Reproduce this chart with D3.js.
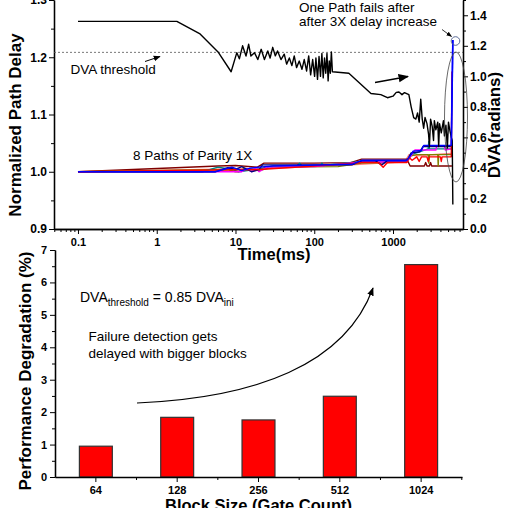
<!DOCTYPE html>
<html><head><meta charset="utf-8">
<script src="https://cdn.jsdelivr.net/npm/d3@7"></script>
<style>
body{margin:0;background:#fff;}
svg{display:block;font-family:"Liberation Sans",Arial,sans-serif;}
</style></head><body>
<svg id="c" width="506" height="508"></svg>
<script>
// ---------- DATA (top panel) ----------
const timeTicks = [0.1, 1, 10, 100, 1000];
const timeTickLabels = ["0.1", "1", "10", "100", "1000"];
const delayTicks = [0.9, 1.0, 1.1, 1.2, 1.3];
const dvaTicks = [0.0, 0.2, 0.4, 0.6, 0.8, 1.0, 1.2, 1.4];
const dvaThreshold = 1.157;

// DVA (radians, right axis) vs time (ms)
const dvaSeries = [
 [0.1,1.36],[1.8,1.36],[3.5,1.28],[6,1.16],[8.8,1.03],[10.4,1.155],[11.2,1.115],[12.3,1.2],[13.6,1.133],
 [14.7,1.21],[15.7,1.133],[17.4,1.155],[19.2,1.11],[21.2,1.177],[23.3,1.11],[25.7,1.166],[27.5,1.12],
 [29.7,1.19],[32,1.134],[34.2,1.166],[37.8,1.11],[41.6,1.145],[44.6,1.08],[48.3,1.12],[52,1.07],
 [55.7,1.134],[59.6,1.057],[64.5,1.1],[69.8,1.046],[74.6,1.11],[80,1.035],[85,1.134],[90,1.01],
 [95.5,1.11],[101,1.0],[105,1.12],[110,0.98],[115,1.13],[120,1.0],[125,1.15],[130,0.99],[135,1.12],
 [140,1.02],[145,1.15],[150,0.97],[155,1.1],[160,1.02],[165,1.16],[170,1.03],[275,1.02],[525,0.888],
 [700,0.88],[850,0.86],[1000,0.87],[1100,0.895],[1190,0.897],[1300,0.88],[1400,0.893],[1590,0.88],
 [1700,0.8],[1830,0.73],[1950,0.72],[2050,0.76],[2150,0.7],[2250,0.85],[2350,0.72],[2450,0.66],
 [2550,0.73],[2700,0.69],[2830,0.62],[2900,0.54],[3000,0.72],[3150,0.67],[3270,0.58],[3350,0.71],
 [3500,0.65],[3700,0.7],[3800,0.54],[3900,0.69],[4100,0.63],[4370,0.71],[4500,0.61],[4700,0.68],
 [4900,0.53],[5060,0.7],[5300,0.64],[5500,0.6],[5650,0.58],[5750,0.16]
];

// 8 path delays (normalized, left axis)
const pathWine = [[0.1,1.0],[6,1.01],[10,1.011],[19,1.008],[23,1.015],[100,1.015],[290,1.016],[400,1.022],
 [1500,1.022],[1650,1.01],[2500,1.01],[2600,1.016],[2700,1.01],[2900,1.01],[3000,1.016],[3100,1.01],[5600,1.01]];
const pathNavy = [[0.1,1.0],[5.5,1.0],[8,1.007],[10,1.004],[12,1.009],[16,1.0],[20,1.004],[22,1.012],
 [300,1.012],[400,1.019],[600,1.019],[720,1.012],[840,1.019],[1500,1.019],[1700,1.033],[2200,1.035],
 [2400,1.044],[5500,1.044]];
const pathBlue = [[0.1,1.0],[5.5,1.0],[7,1.004],[9,1.008],[12,1.002],[15,1.006],[20,1.008],[30,1.01],
 [300,1.013],[400,1.02],[1500,1.02],[1700,1.03],[1800,1.036],[2300,1.037],[2450,1.046],[5500,1.046],[5750,1.23]];
const pathTeal = [[0.1,1.0],[3.8,1.0],[6,1.008],[9,1.004],[11,1.0],[20,1.005],[30,1.01],[60,1.01],[65,1.015],
 [70,1.01],[120,1.011],[125,1.015],[130,1.011],[400,1.018],[1500,1.018],[1700,1.03],[2800,1.04],[2850,1.053],
 [2900,1.04],[5500,1.04]];
const pathMagenta = [[0.1,1.0],[12,1.0],[14,1.006],[16,1.0],[18,1.006],[20,1.0],[25,1.008],[100,1.009],
 [400,1.017],[1500,1.017],[1650,1.026],[1900,1.038],[3500,1.038],[3600,1.045],[4500,1.045],[4600,1.038],[5500,1.04]];
const pathOlive = [[0.1,1.0],[8,1.004],[10,1.0],[11,1.0],[13,1.006],[20,1.002],[30,1.008],[200,1.009],
 [400,1.015],[1500,1.017],[1700,1.028],[2000,1.03],[2800,1.03],[2850,1.015],[2900,1.03],[3700,1.03],
 [3750,1.01],[3800,1.03],[5500,1.03]];
const pathRed = [[0.1,1.0],[20,1.004],[100,1.01],[400,1.016],[650,1.016],[750,1.008],[850,1.016],[1500,1.016],
 [1600,1.025],[1750,1.02],[2000,1.026],[2150,1.018],[2300,1.026],[2700,1.026],[2800,1.018],[2900,1.026],
 [4000,1.026],[4100,1.018],[4200,1.026],[5500,1.026],[5600,1.175]];
const pathPink = [[0.1,1.0],[30,1.006],[300,1.012],[700,1.015],[1400,1.017],[1600,1.03],[2000,1.028],[5500,1.032]];

const pathSeries = [pathPink, pathWine, pathOlive, pathTeal, pathMagenta, pathNavy, pathRed, pathBlue];
const pathColors = ["#ff8080", "#800000", "#808000", "#008080", "#ff00ff", "#000080", "#ff0000", "#0000ff"];

// ---------- DATA (bottom panel) ----------
const blockSizes = ["64", "128", "256", "512", "1024"];
const degradation = [0.95, 1.84, 1.76, 2.49, 6.55];
const degTicks = [0, 1, 2, 3, 4, 5, 6, 7];

// ---------- DRAW ----------
const svg = d3.select("#c");
const FONT = '"Liberation Sans",Arial,sans-serif';

const defs = svg.append("defs");
defs.append("marker").attr("id","ah").attr("viewBox","0 0 10 10").attr("refX",9).attr("refY",5)
  .attr("markerWidth",7).attr("markerHeight",7).attr("orient","auto")
  .append("path").attr("d","M0,1 L10,5 L0,9 Z").attr("fill","#000");

// top scales
const xT = d3.scaleLog().domain([0.0496, 7740]).range([54, 463]);
const yL = d3.scaleLinear().domain([0.9, 1.3]).range([229, 0]);
const yR = d3.scaleLinear().domain([0, 1.5]).range([229, 0]);

const gTop = svg.append("g");

function styleAxis(g, fs){
  g.select(".domain").attr("stroke","#000").attr("stroke-width",1.3);
  g.selectAll(".tick line").attr("stroke","#000").attr("stroke-width",1);
  g.selectAll(".tick text").attr("font-family",FONT).attr("font-weight","bold")
    .attr("font-size",fs).attr("fill","#000");
}

// minor ticks for log axis
const minorT = [];
for (let k=-2;k<=3;k++) for (let m=2;m<=9;m++){ const v=m*Math.pow(10,k); if(v>=xT.domain()[0]&&v<=xT.domain()[1]) minorT.push(v); }

const gxT = gTop.append("g").attr("transform","translate(0,229)")
  .call(d3.axisBottom(xT).tickValues(timeTicks).tickFormat((d,i)=>timeTickLabels[i]).tickSize(5).tickSizeOuter(0).tickPadding(4));
styleAxis(gxT, 11);
const gxTm = gTop.append("g").attr("transform","translate(0,229)")
  .call(d3.axisBottom(xT).tickValues(minorT).tickFormat("").tickSize(3).tickSizeOuter(0));
styleAxis(gxTm, 11);

const gyL = gTop.append("g").attr("transform","translate(54,0)")
  .call(d3.axisLeft(yL).tickValues(delayTicks).tickFormat(d3.format(".1f")).tickSize(5).tickSizeOuter(0).tickPadding(2));
styleAxis(gyL, 12);
const gyLm = gTop.append("g").attr("transform","translate(54,0)")
  .call(d3.axisLeft(yL).tickValues([0.95,1.05,1.15,1.25]).tickFormat("").tickSize(3).tickSizeOuter(0));
styleAxis(gyLm, 12);

const gyR = gTop.append("g").attr("transform","translate(463,0)")
  .call(d3.axisRight(yR).tickValues(dvaTicks).tickFormat(d3.format(".1f")).tickSize(5).tickSizeOuter(0).tickPadding(2));
styleAxis(gyR, 12);
const gyRm = gTop.append("g").attr("transform","translate(463,0)")
  .call(d3.axisRight(yR).tickValues([0.1,0.3,0.5,0.7,0.9,1.1,1.3,1.5]).tickFormat("").tickSize(3).tickSizeOuter(0));
styleAxis(gyRm, 12);

// threshold line
gTop.append("line").attr("x1",54).attr("x2",463).attr("y1",yR(dvaThreshold)).attr("y2",yR(dvaThreshold))
  .attr("stroke","#555").attr("stroke-width",0.8).attr("stroke-dasharray","2,2");

// path lines
const lineL = d3.line().x(d=>xT(d[0])).y(d=>yL(d[1]));
pathSeries.forEach((s,i)=>{
  gTop.append("path").datum(s).attr("d",lineL).attr("fill","none")
    .attr("stroke",pathColors[i]).attr("stroke-width",1.4).attr("stroke-linejoin","round");
});
// DVA line
const lineR = d3.line().x(d=>xT(d[0])).y(d=>yR(d[1]));
gTop.append("path").datum(dvaSeries).attr("d",lineR).attr("fill","none")
  .attr("stroke","#000").attr("stroke-width",1.4).attr("stroke-linejoin","round");
// re-draw blue spike on top
gTop.append("path").datum(pathBlue.slice(-2)).attr("d",lineL).attr("fill","none").attr("stroke","#0000ff").attr("stroke-width",1.6);

// annotations top
function txt(g,x,y,s,fs,opts={}){
  return g.append("text").attr("x",x).attr("y",y).attr("font-family",FONT).attr("font-size",fs)
    .attr("font-weight",opts.bold?"bold":"normal").attr("text-anchor",opts.anchor||"start").attr("fill","#000").text(s);
}
txt(gTop,70.5,74,"DVA threshold",13.5);
gTop.append("line").attr("x1",145).attr("y1",61.5).attr("x2",160).attr("y2",56.5).attr("stroke","#000").attr("stroke-width",1).attr("marker-end","url(#ah)");
txt(gTop,133,160,"8 Paths of Parity 1X",13.5);
txt(gTop,299,12,"One Path fails after",13.5);
txt(gTop,299,26,"after 3X delay increase",13.5);
gTop.append("line").attr("x1",442).attr("y1",29.5).attr("x2",451.5).attr("y2",36.5).attr("stroke","#000").attr("stroke-width",0.8).attr("marker-end","url(#ah)");
gTop.append("line").attr("x1",375).attr("y1",82.5).attr("x2",408).attr("y2",76.5).attr("stroke","#000").attr("stroke-width",1.5).attr("marker-end","url(#ah)");
gTop.append("circle").attr("cx",455.5).attr("cy",41).attr("r",4.3).attr("fill","none").attr("stroke","#4a5a8a").attr("stroke-width",0.9);
gTop.append("ellipse").attr("cx",456).attr("cy",117).attr("rx",11.5).attr("ry",65).attr("fill","none").attr("stroke","#444").attr("stroke-width",0.8);

// axis titles top
gTop.append("text").attr("transform","translate(21,125) rotate(-90)").attr("text-anchor","middle")
  .attr("font-family",FONT).attr("font-weight","bold").attr("font-size",17).text("Normalized Path Delay");
gTop.append("text").attr("transform","translate(500,125) rotate(-90)").attr("text-anchor","middle")
  .attr("font-family",FONT).attr("font-weight","bold").attr("font-size",17).text("DVA(radians)");
txt(gTop,274,260,"Time(ms)",16.5,{bold:true,anchor:"middle"});

// ---------- bottom panel ----------
const gBot = svg.append("g");
const xB = d3.scaleBand().domain(blockSizes).range([55,462]).paddingInner(0.595).paddingOuter(0.3);
const yB = d3.scaleLinear().domain([0,7]).range([477,250]);

gBot.selectAll("rect.bar").data(degradation).enter().append("rect").attr("class","bar")
  .attr("x",(d,i)=>xB(blockSizes[i])).attr("width",xB.bandwidth())
  .attr("y",d=>yB(d)).attr("height",d=>yB(0)-yB(d))
  .attr("fill","#ff0000").attr("stroke","#333").attr("stroke-width",1.2);

const gxB = gBot.append("g").attr("transform","translate(0,477)")
  .call(d3.axisBottom(xB).tickSize(5).tickSizeOuter(0).tickPadding(4));
styleAxis(gxB, 11);
const boundaries = blockSizes.slice(1).map(c=>xB(c)-(xB.step()-xB.bandwidth())/2).concat([xB(blockSizes[4])+xB.bandwidth()+(xB.step()-xB.bandwidth())/2]);
gBot.selectAll("line.bnd").data(boundaries).enter().append("line").attr("class","bnd")
  .attr("x1",d=>d).attr("x2",d=>d).attr("y1",477).attr("y2",480).attr("stroke","#000");

const gyB = gBot.append("g").attr("transform","translate(55,0)")
  .call(d3.axisLeft(yB).tickValues(degTicks).tickFormat(d3.format("d")).tickSize(5).tickSizeOuter(0).tickPadding(3));
styleAxis(gyB, 11);
const gyBm = gBot.append("g").attr("transform","translate(55,0)")
  .call(d3.axisLeft(yB).tickValues([0.5,1.5,2.5,3.5,4.5,5.5,6.5]).tickFormat("").tickSize(3).tickSizeOuter(0));
styleAxis(gyBm, 11);

// annotations bottom
const t1 = gBot.append("text").attr("x",80).attr("y",301.5).attr("font-family",FONT).attr("font-size",14);
t1.append("tspan").text("DVA");
t1.append("tspan").attr("font-size",10).attr("dy",4).text("threshold");
t1.append("tspan").attr("dy",-4).text(" = 0.85 DVA");
t1.append("tspan").attr("font-size",10).attr("dy",4).text("ini");
txt(gBot,88.5,341,"Failure detection gets",13.5);
txt(gBot,88.5,357.5,"delayed with bigger blocks",13.5);
gBot.append("path").attr("d","M137,403 C255,398 345,365 373,288").attr("fill","none")
  .attr("stroke","#000").attr("stroke-width",1.2).attr("marker-end","url(#ah)");

gBot.append("text").attr("transform","translate(31,371) rotate(-90)").attr("text-anchor","middle")
  .attr("font-family",FONT).attr("font-weight","bold").attr("font-size",17).text("Performance Degradation (%)");
txt(gBot,258.5,511,"Block Size (Gate Count)",16.5,{bold:true,anchor:"middle"});
</script>
</body></html>
